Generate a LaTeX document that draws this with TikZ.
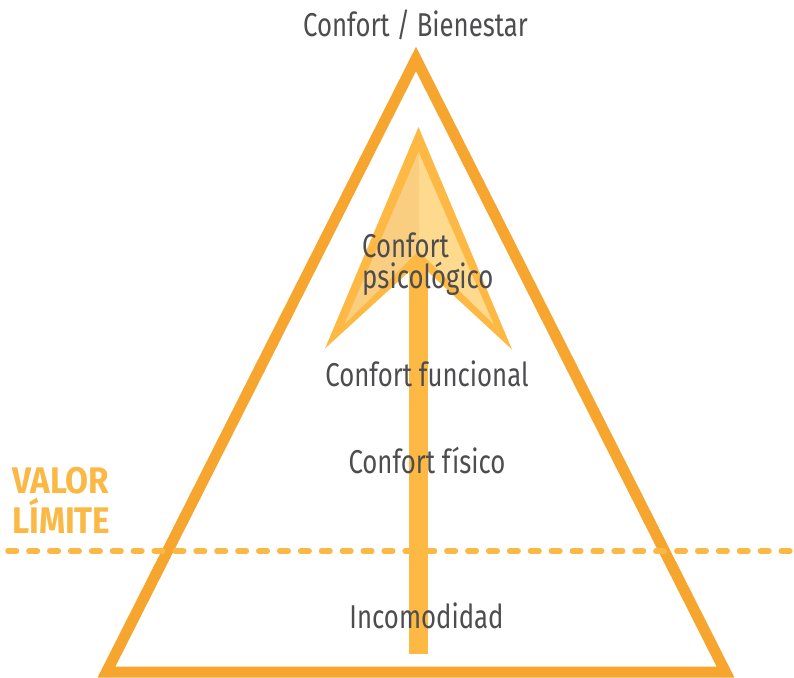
\documentclass[tikz,border=0pt]{standalone}
\usepackage{fontspec}
\newfontfamily\labelfont[FakeStretch=0.78]{Fira Sans}
\newfontfamily\limitfont[FakeStretch=0.9]{Fira Sans}
\definecolor{triorange}{HTML}{F6A52E}
\definecolor{arrowborder}{HTML}{FDB944}
\definecolor{arrowlightL}{HTML}{F9CE80}
\definecolor{arrowlightR}{HTML}{FDDA8D}
\definecolor{textgray}{HTML}{4D4D4F}
\definecolor{limitcol}{HTML}{FBB845}
\begin{document}
\begin{tikzpicture}[x=1pt,y=-1pt,
  lbl/.style={font=\labelfont\fontsize{33}{33}\selectfont, text=textgray, inner sep=0pt, anchor=base},
  limitlbl/.style={font=\limitfont\bfseries\fontsize{37}{40}\selectfont, text=limitcol, inner sep=0pt, anchor=base west},
  pyramid/.style={draw=triorange, line width=11pt, miter limit=10, line join=miter}]
\useasboundingbox (0,0) rectangle (794,677);
% pyramid
\coordinate (apex) at (416,59);
\coordinate (bl) at (106.5,672);
\coordinate (br) at (725.5,672);
\draw[pyramid] (apex) -- (br) -- (bl) -- cycle;
% arrow head (outer)
\coordinate (tipO) at (418.5,127);
\coordinate (rbO) at (512,349.5);
\coordinate (notchO) at (418.5,263);
\coordinate (lbO) at (325,348.5);
\fill[arrowborder] (tipO) -- (rbO) -- (notchO) -- (lbO) -- cycle;
% arrow head (inner)
\coordinate (tipI) at (418.5,152);
\coordinate (rbI) at (493.5,324);
\coordinate (notchI) at (418.5,251);
\coordinate (lbI) at (344.5,324);
\fill[arrowlightL] (tipI) -- (notchI) -- (lbI) -- cycle;
\fill[arrowlightR] (tipI) -- (rbI) -- (notchI) -- cycle;
% shaft
\coordinate (shaftTL) at (409,262);
\coordinate (shaftBR) at (428,654);
\fill[arrowborder] (shaftTL) rectangle (shaftBR);
% limit line
\coordinate (limL) at (8,551);
\coordinate (limR) at (794,551);
\draw[limitcol, line width=5.5pt, line cap=round, dash pattern=on 8.5pt off 12.4pt] (limL) -- (limR);
% labels
\node[lbl] (top) at (415.5,37) {Confort / Bienestar};
\node[lbl, anchor=base west] (psi1) at (362,257) {Confort};
\node[lbl, anchor=base west] (psi2) at (362,288) {psicológico};
\node[lbl] (func) at (427,386) {Confort funcional};
\node[lbl] (fis) at (427,473) {Confort físico};
\node[lbl] (inc) at (426.5,628) {Incomodidad};
\node[limitlbl] (valor) at (12,493) {VALOR};
\node[limitlbl] (limite) at (12,533) {LÍMITE};
\end{tikzpicture}
\end{document}
